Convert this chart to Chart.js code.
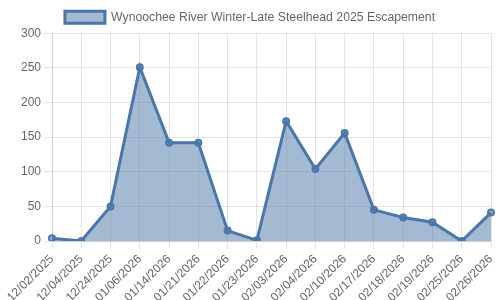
<!DOCTYPE html>
<html>
<head>
<meta charset="utf-8">
<script src="https://cdn.jsdelivr.net/npm/chart.js@4/dist/chart.umd.min.js"></script>
<style>
  html, body { margin: 0; padding: 0; background: #fff; }
  #wrap { width: 500px; height: 300px; position: relative; }
</style>
</head>
<body>
<div id="wrap"><canvas id="chart"></canvas></div>
<script>
// Survey dates and fish counts
const dates = [
  '12/02/2025', '12/04/2025', '12/24/2025', '01/06/2026', '01/14/2026', '01/21/2026',
  '01/22/2026', '01/23/2026', '02/03/2026', '02/04/2026', '02/10/2026', '02/17/2026',
  '02/18/2026', '02/19/2026', '02/25/2026', '02/26/2026'
];
const escapement = [4, 0, 50, 251, 142, 142, 15, 1, 173, 104, 156, 45, 34, 27, 0, 41];
const seriesLabel = 'Wynoochee River Winter-Late Steelhead 2025 Escapement';

Chart.defaults.font.family = '"Liberation Sans", Arial, sans-serif';
Chart.defaults.font.size = 12;
Chart.defaults.color = '#666';

const lineColor = '#4a76a8';

new Chart(document.getElementById('chart').getContext('2d'), {
  type: 'line',
  data: {
    labels: dates,
    datasets: [{
      label: seriesLabel,
      data: escapement,
      borderColor: lineColor,
      backgroundColor: 'rgba(74, 118, 168, 0.5)',
      fill: true,
      tension: 0,
      borderWidth: 3,
      pointRadius: 3,
      pointBackgroundColor: 'rgba(74, 118, 168, 0.5)',
      pointBorderColor: lineColor,
      pointBorderWidth: 2
    }]
  },
  options: {
    responsive: true,
    maintainAspectRatio: false,
    animation: false,
    layout: { padding: { top: 1 } },
    plugins: {
      legend: {
        position: 'top',
        labels: { boxWidth: 40, boxHeight: 12, font: { size: 12.25 } }
      },
      tooltip: { enabled: false }
    },
    scales: {
      x: {
        grid: { color: 'rgba(0,0,0,0.1)' },
        ticks: { maxRotation: 45, minRotation: 45, autoSkip: false },
        // match the reference's axis band
        afterFit(scale) {
          scale.height = 59;
          scale.paddingLeft = 52;
          scale.paddingRight = 9;
        }
      },
      y: {
        min: 0,
        max: 300,
        grid: { color: 'rgba(0,0,0,0.1)' },
        ticks: { stepSize: 50 },
        afterFit(scale) {
          scale.width = 52;
        }
      }
    }
  }
});
</script>
</body>
</html>
